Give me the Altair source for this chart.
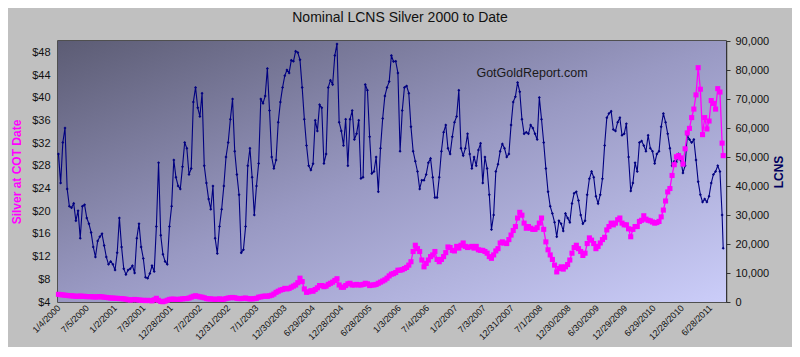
import altair as alt
import pandas as pd

# weeks since 2000-01-04 for each sample (COT Tuesdays, every second week)
week_index = list(range(0, 611, 2)) + [611]

# LCNS, thousands of contracts
lcns_k = [
    51, 41, 55, 60, 39, 33, 32.5, 34, 28, 31.5, 22, 33, 33.5, 29, 27, 24, 19, 15.5, 21, 22.5,
    23.5, 19.5, 15.5, 13, 14, 13, 11, 17, 29, 19, 11.5, 9.5, 11, 11.5, 12.5, 10, 22, 27, 19,
    15, 8.5, 8.2, 9.8, 12.5, 10.5, 26, 48, 23, 16.5, 14, 13, 26, 33, 49, 43, 40, 39, 46.6, 55,
    53, 44, 46, 69, 74, 67, 64, 72, 47, 41, 35.5, 32, 40, 22, 16.7, 26, 32, 40, 50,
    55, 63, 70, 52, 44, 37, 17, 18, 26, 47, 53, 43, 30, 40, 47.8, 70, 68.5, 71, 80.5, 66,
    50, 46, 49, 62, 69, 74, 78, 80, 79, 83.4, 83, 86.5, 86, 83.5, 74, 63, 54, 47,
    45.5, 47.7, 62.7, 59, 68, 67, 47.8, 51, 74, 76.5, 75, 85, 89, 62, 59, 54, 63, 47, 63, 66,
    56, 58, 62.7, 42.6, 43, 75, 73, 57, 44.3, 45, 50, 38, 53, 63.3, 71, 74, 76, 85,
    82.9, 83, 79, 52, 66, 74, 74.5, 72, 60.4, 52, 48.5, 45, 39, 42, 42, 44, 48, 49.5, 43, 36,
    36, 43, 52, 58.5, 61, 53, 51, 57, 62, 64, 73, 53, 50.5, 53, 58, 51, 46, 50,
    47, 52.4, 54.7, 41, 50, 46, 37, 25, 30, 45, 47.5, 52, 54.5, 53, 50, 51, 61, 69, 70.8, 75.7,
    72.5, 63, 58, 58.5, 58, 61, 60, 58, 56, 70.5, 63, 55, 46, 38, 33, 30.5, 27.5, 22.5, 28, 27,
    24.5, 30.5, 29, 27.5, 34, 37.5, 38, 35, 30, 27, 28, 37, 42.5, 45, 43, 36.5, 34, 37, 42.5, 54,
    63.5, 65, 65.8, 59.5, 59, 62, 63.5, 57.5, 58, 61.5, 50, 38.3, 41, 48, 45, 55, 55.5, 54,
    52, 57.5, 53, 52, 47.8, 51, 52, 60.4, 65, 62, 58, 53, 47, 48.5, 48.3, 51, 49, 44.5, 47, 57.5,
    56, 55, 56, 49, 41.5, 37, 34.5, 35.5, 34.5, 36.5, 41, 44, 45, 47, 45, 30, 18.5,
]

# Silver price at COT date, US$
silver = [
    5.35, 5.3, 5.25, 5.2, 5.15, 5.1, 5.1, 5.05, 5.0, 5.0, 5.05, 5.0, 5.0, 4.95,
    4.95, 4.95, 4.9, 4.9, 4.9, 4.95, 4.9, 4.85, 4.8, 4.75, 4.7, 4.7, 4.65,
    4.65, 4.6, 4.6, 4.55, 4.5, 4.4, 4.35, 4.4, 4.45, 4.4, 4.35, 4.3, 4.3,
    4.25, 4.3, 4.25, 4.2, 4.4, 4.65, 4.3, 4.1, 4.05, 4.15, 4.3, 4.45, 4.5,
    4.5, 4.45, 4.45, 4.5, 4.55, 4.6, 4.6, 4.7, 4.85, 5.0, 5.1, 5.0, 4.9,
    4.85, 4.75, 4.6, 4.55, 4.55, 4.5, 4.45, 4.5, 4.55, 4.45, 4.5, 4.6, 4.7,
    4.75, 4.8, 4.75, 4.65, 4.6, 4.6, 4.65, 4.7, 4.6, 4.55, 4.55, 4.6, 4.65,
    4.85, 4.9, 5.0, 5.05, 5.0, 5.1, 5.2, 5.4, 5.7, 5.9, 6.1, 6.2, 6.4,
    6.3, 6.4, 6.6, 6.8, 7.0, 7.4, 8.2, 7.6, 6.3, 5.7, 5.8, 6.0, 5.9,
    6.2, 6.5, 6.9, 6.9, 6.7, 6.8, 7.1, 7.3, 7.5, 7.8, 8.1, 7.0, 6.6,
    6.6, 6.9, 7.2, 7.3, 7.0, 7.0, 7.1, 7.0, 7.0, 7.1, 7.3, 7.2, 6.9,
    7.0, 7.0, 7.1, 7.3, 7.5, 7.7, 7.9, 8.2, 8.6, 8.9, 9.0, 9.2, 9.6,
    9.6, 9.7, 9.9, 10.1, 10.5, 11.1, 12.9, 14.0, 13.4, 12.9, 11.4, 10.2, 10.8, 11.4, 12.0, 12.3,
    12.9, 11.5, 11.1, 11.5, 12.0, 12.7, 13.7, 13.6, 13.1, 13.0, 13.8, 13.5, 14.0, 14.4,
    13.8, 13.6, 13.7, 13.8, 13.5, 13.8,
    13.2, 13.1, 13.1, 12.9, 12.6, 12.0, 11.7, 12.3, 13.0, 13.4, 14.4, 14.6, 14.4, 14.3, 15.0, 15.8,
    16.6, 17.3, 18.8, 19.8, 19.3, 17.9, 17.0, 17.3, 17.0, 16.8, 16.8, 17.1, 17.9, 18.8,
    16.8, 14.6, 13.2, 12.3, 11.5, 10.5, 9.3, 9.9, 10.2,
    9.8, 10.2, 10.6, 11.4, 12.6, 13.6, 14.0, 13.4, 12.9, 12.2, 12.6, 14.3, 15.3, 14.9, 14.3, 13.4,
    13.8, 14.4, 15.0, 15.4, 16.7, 17.3, 17.9, 17.6, 17.9, 18.5, 18.8, 17.9, 17.6, 17.6,
    16.9, 15.5, 16.8, 17.3, 17.3, 18.2, 18.4, 19.2,
    18.6, 18.4, 18.3, 18.1, 17.9, 18.0, 18.2, 19.0, 20.2, 21.8, 23.4, 24.0, 26.3, 28.2, 29.6, 29.8,
    29.4, 28.3, 31.0, 33.8, 34.6, 36.5, 38.0, 40.5, 45.3, 41.5, 33.5, 36.5, 34.5, 35.9,
    39.5, 39.0, 38.0, 41.6, 41.0, 32.0, 29.8,
]

x_tick_labels = [
    "1/4/2000", "7/5/2000", "1/2/2001", "7/3/2001", "12/28/2001", "7/2/2002",
    "12/31/2002", "7/1/2003", "12/30/2003", "6/29/2004", "12/28/2004", "6/28/2005",
    "1/3/2006", "7/4/2006", "1/2/2007", "7/3/2007", "12/31/2007", "7/1/2008",
    "12/30/2008", "6/30/2009", "12/29/2009", "6/29/2010", "12/28/2010", "6/28/2011",
]
silver_ticks = [4, 8, 12, 16, 20, 24, 28, 32, 36, 40, 44, 48]
lcns_ticks = [0, 10000, 20000, 30000, 40000, 50000, 60000, 70000, 80000, 90000]


def ms(ts):
    return int(pd.Timestamp(ts).value // 10**6)


start = pd.Timestamp("2000-01-04")
dates = [ms(start + pd.Timedelta(weeks=w)) for w in week_index]
df = pd.DataFrame({
    "date": dates,
    "lcns": [v * 1000 for v in lcns_k],
    "silver": silver,
})
tick_ms = [ms(pd.to_datetime(t, format="%m/%d/%Y")) for t in x_tick_labels]
x_domain = [ms("2000-01-01"), ms("2011-10-08")]

W, H = 668, 261
FONT = "Liberation Sans"

xenc = alt.X(
    "date:T",
    scale=alt.Scale(type="utc", domain=x_domain, nice=False),
    axis=alt.Axis(
        title=None, values=tick_ms,
        labelExpr="utcFormat(datum.value, '%-m/%-d/%Y')",
        labelAngle=-45, labelAlign="right", labelBaseline="middle",
        labelFontSize=9, labelColor="#111", ticks=False, labelPadding=4,
        grid=False, domain=False, labelFont=FONT, labelOverlap=False,
    ),
)

bg = alt.Chart(pd.DataFrame({"a": [0]})).mark_rect(
    fill={
        "gradient": "linear", "x1": 0, "y1": 0, "x2": 1, "y2": 1,
        "stops": [
            {"offset": 0, "color": "#5c5c74"},
            {"offset": 0.5, "color": "#9999c3"},
            {"offset": 1, "color": "#cbcdf9"},
        ],
    }
).encode(x=alt.value(0), x2=alt.value(W), y=alt.value(0), y2=alt.value(H))

lcns_line = alt.Chart(df).mark_line(
    color="#000080", strokeWidth=1.1,
    point=alt.OverlayMarkDef(shape="diamond", size=9, filled=True, color="#000080"),
).encode(
    x=xenc,
    y=alt.Y(
        "lcns:Q",
        scale=alt.Scale(domain=[0, 90000], nice=False, zero=True),
        axis=alt.Axis(
            orient="right", title="LCNS", values=lcns_ticks, format=",d",
            titleColor="#000060", titleFontWeight="bold", titleFontSize=12,
            titleFont=FONT, titleAngle=-90, titleBaseline="top", titlePadding=5,
            labelFont=FONT, labelFontSize=11, labelColor="#111",
            tickSize=4, tickColor="#333", labelPadding=5,
            domain=True, domainColor="#333", domainWidth=1.5, grid=False,
        ),
    ),
)

silver_line = alt.Chart(df).mark_line(
    color="#ff00ff", strokeWidth=1.3,
    point=alt.OverlayMarkDef(shape="square", size=26, filled=True, color="#ff00ff"),
).encode(
    x=xenc,
    y=alt.Y(
        "silver:Q",
        scale=alt.Scale(domain=[4, 50], nice=False, zero=False),
        axis=alt.Axis(
            orient="left", title="Silver at COT Date", values=silver_ticks,
            labelExpr="'$' + datum.value",
            titleColor="#ff00ff", titleFontWeight="bold", titleFontSize=12,
            titleFont=FONT, titlePadding=8,
            labelFont=FONT, labelFontSize=11, labelColor="#111",
            ticks=False, labelPadding=8, domain=False, grid=False,
        ),
    ),
)

watermark = alt.Chart(pd.DataFrame({"t": ["GotGoldReport.com"]})).mark_text(
    font=FONT, fontSize=12.5, color="#1a1a1a", align="center", baseline="middle"
).encode(text="t:N", x=alt.value(474), y=alt.value(32))

chart = (
    alt.layer(bg, lcns_line, silver_line, watermark)
    .resolve_scale(y="independent")
    .properties(
        width=W, height=H,
        title=alt.TitleParams(
            "Nominal LCNS Silver 2000 to Date", font=FONT, fontSize=14,
            fontWeight="normal", color="#111", anchor="middle", dx=8, offset=10,
        ),
        autosize=alt.AutoSizeParams(type="none"),
        padding={"left": 50, "top": 33, "right": 66, "bottom": 45},
    )
    .configure(background="#c0c0c0")
    .configure_view(stroke="#2a2a2a", strokeWidth=1.5)
)

chart.save("out.html", embed_options={"renderer": "svg", "actions": False})
